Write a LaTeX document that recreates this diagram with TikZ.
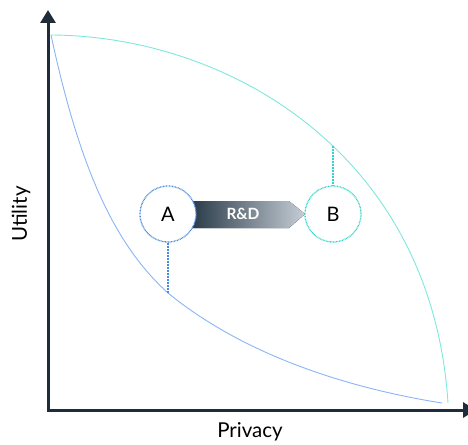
\documentclass[tikz,border=0pt]{standalone}
\usepackage{fontspec}
\setmainfont{Lato}
\usetikzlibrary{arrows.meta}
\definecolor{axisc}{HTML}{1F2D3A}
\definecolor{highc}{HTML}{7EE8DC}
\definecolor{lowc}{HTML}{8AB4F8}
\definecolor{ringa}{HTML}{4A8AE0}
\definecolor{ringb}{HTML}{34D6CC}
\definecolor{graddark}{HTML}{2A3B49}
\definecolor{gradlight}{HTML}{C6CED6}
\tikzset{
  axis/.style={line width=3pt, color=axisc, -{Triangle[length=13pt,width=15pt]}},
  frontier/.style={line width=0.9pt},
  state/.style={circle, minimum size=56pt, inner sep=0pt, fill=white,
    line width=1.3pt, dash pattern=on 0.8pt off 0.7pt, font=\fontsize{20}{22}\selectfont},
  drop/.style={line width=1.5pt, dash pattern=on 0.8pt off 0.7pt},
  axlabel/.style={font=\fontsize{20.5}{23}\selectfont, text=black},
}
\begin{document}
\begin{tikzpicture}[x=1pt,y=-1pt]
\useasboundingbox (0,0) rectangle (468,444);
\clip (0,0) rectangle (468,444);

% axes
\coordinate (origin) at (48,410);
\coordinate (ytip) at (48,10);
\coordinate (xtip) at (476,410);
\draw[axis] (origin) -- (ytip);
\draw[axis] ([xshift=-1.5pt]origin) -- (xtip);
\node[axlabel, rotate=90] (ylab) at (21,214) {Utility};
\node[axlabel] (xlab) at (250,432) {Privacy};

% frontiers
\coordinate (start) at (51,35);
\coordinate (hiend) at (448,403);
\coordinate (loend) at (442,403);
\coordinate (lomid) at (168,293);
\coordinate (himid) at (333,145);
\draw[frontier, highc] (start) .. controls (230,36) and (432,155) .. (hiend);
\draw[frontier, lowc] (start) .. controls (80,170) and (115,245) .. (lomid)
  .. controls (250,360) and (360,390) .. (loend);

% R&D arrow
\fill[left color=graddark, right color=gradlight]
  (192,201) -- (289,201) -- (305,214) -- (289,228) -- (192,228) -- cycle;
\node[text=white, font=\bfseries\fontsize{15.5}{17}\selectfont] (rd) at (243,214) {R\&D};

% states
\node[state, draw=ringa] (A) at (168,214) {A};
\node[state, draw=ringb] (B) at (333,214) {B};
\draw[drop, ringa] (A.south) -- (lomid);
\draw[drop, ringb] (B.north) -- (himid);
\end{tikzpicture}
\end{document}
